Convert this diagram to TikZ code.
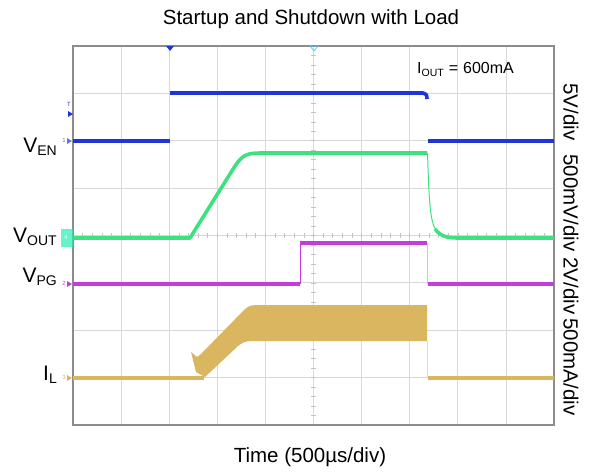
\documentclass[tikz,border=0pt]{standalone}
\usepackage{fontspec}
\setmainfont{Liberation Sans}
\definecolor{cen}{HTML}{1F35D8}
\definecolor{cout}{HTML}{3DE27F}
\definecolor{cpg}{HTML}{C43CDA}
\definecolor{cil}{HTML}{DAB660}
\definecolor{gridc}{HTML}{D8D8D8}
\definecolor{framec}{HTML}{8C8C8C}
\definecolor{tickc}{HTML}{C4C4C4}
\newcommand{\sig}[2]{#1\raisebox{-3pt}{\fontsize{14}{14}\selectfont #2}}
\begin{document}
\begin{tikzpicture}[x=1pt,y=-1pt,
  gridline/.style={gridc, line width=0.8pt},
  tickline/.style={tickc, line width=0.6pt},
  trace/.style={line width=3.6pt, line cap=butt, line join=round},
  thintrace/.style={line width=1pt},
  biglbl/.style={font=\fontsize{20.5}{24}\selectfont, inner sep=0pt},
  sidelbl/.style={font=\fontsize{20.5}{24}\selectfont, inner sep=0pt, rotate=-90},
  chlbl/.style={font=\fontsize{21}{24}\selectfont, inner sep=0pt, anchor=base east},
  tinylbl/.style={font=\fontsize{6}{6}\selectfont, inner sep=0pt}]
\useasboundingbox (0,0) rectangle (593,472);
% grid
\foreach \i in {1,...,9} \draw[gridline] ({73+\i*48.1},46) -- ({73+\i*48.1},425);
\foreach \j in {1,...,7} \draw[gridline] (73,{46+\j*47.375}) -- (554,{46+\j*47.375});
\foreach \t in {1,...,39} \draw[tickline] (311,{46+\t*9.475}) -- (316,{46+\t*9.475});
\foreach \t in {1,...,49} \draw[tickline] ({73+\t*9.62},233) -- ({73+\t*9.62},238);
% frame
\draw[framec, line width=1.3pt] (73,46) rectangle (554,425);
% top markers
\fill[cen] (166,46) -- (174,46) -- (170,51) -- cycle;
\draw[cyan!70, line width=0.7pt] (310,46) -- (318,46) -- (314,51) -- cycle;
% left channel markers
\node[tinylbl, text=cen] (tmk) at (69,104) {T};
\fill[cen] (68,111) -- (73,114) -- (68,117) -- cycle;
\node[tinylbl, text=cen!70] (m1) at (64,140) {1};
\fill[cen!70] (67,138) -- (72,141) -- (67,144) -- cycle;
\fill[cout!60!cyan, opacity=0.7] (61,229) rectangle (73,247);
\node[tinylbl, text=white] (m4) at (66,237) {4};
\node[tinylbl, text=cpg] (m2) at (64,283) {2};
\fill[cpg] (67,281) -- (72,284) -- (67,287) -- cycle;
\node[tinylbl, text=cil] (m3) at (64,377) {3};
\fill[cil] (67,375) -- (72,378) -- (67,381) -- cycle;
% VEN
\draw[cen, trace] (73,141) -- (170,141);
\draw[cen, trace] (170,93) -- (423,93) .. controls (426,93) and (427,95) .. (427,99);
\draw[cen, trace] (428,141) -- (554,141);
% VOUT
\draw[cout, trace] (73,238) -- (190,238) -- (235,166) .. controls (243,154) and (248,153) .. (262,153) -- (427,153);
\draw[cout, thintrace] (427.5,153) .. controls (429,200) and (430,222) .. (436,230);
\draw[cout, trace] (435,229) .. controls (441,237) and (448,238) .. (460,238) -- (554,238);
% VPG
\draw[cpg, trace] (73,284) -- (300,284);
\draw[cpg, thintrace] (300.5,284) -- (300.5,243);
\draw[cpg, trace] (300,243) -- (427,243);
\draw[cpg!40, line width=0.5pt] (427.5,243) -- (427.5,284);
\draw[cpg, trace] (428,284) -- (554,284);
% IL
\draw[cil, trace] (73,378) -- (204,378);
\fill[cil] (191,352) -- (197,357) -- (201,354) -- (245,309) .. controls (250,305) and (252,305) .. (260,305) -- (427,305) -- (427,341) -- (252,341) .. controls (245,341) and (242,343) .. (238,346) -- (205,377) -- (196,372) -- cycle;
\draw[cil!50, line width=0.5pt] (427.5,341) -- (427.5,378);
\draw[cil, trace] (428,378) -- (554,378);
% texts
\node[biglbl, anchor=base] (title) at (311,24) {Startup and Shutdown with Load};
\node[biglbl, anchor=base] (xlab) at (310,462) {Time (500µs/div)};
\node[chlbl] (ven) at (57,152) {\sig{V}{EN}};
\node[chlbl] (vout) at (57,242) {\sig{V}{OUT}};
\node[chlbl] (vpg) at (57,282) {\sig{V}{PG}};
\node[chlbl] (il) at (57,380) {\sig{I}{L}};
\node[font=\fontsize{16}{18}\selectfont, inner sep=0pt, anchor=base west] (iout) at (417,73) {I\raisebox{-3pt}{\fontsize{10.5}{11}\selectfont OUT}\hspace{5pt}=\hspace{5pt}600mA};
\node[sidelbl] (s1) at (571,112) {5V/div};
\node[sidelbl] (s2) at (571,203) {500mV/div};
\node[sidelbl] (s3) at (571,286) {2V/div};
\node[sidelbl] (s4) at (571,367) {500mA/div};
\end{tikzpicture}
\end{document}
